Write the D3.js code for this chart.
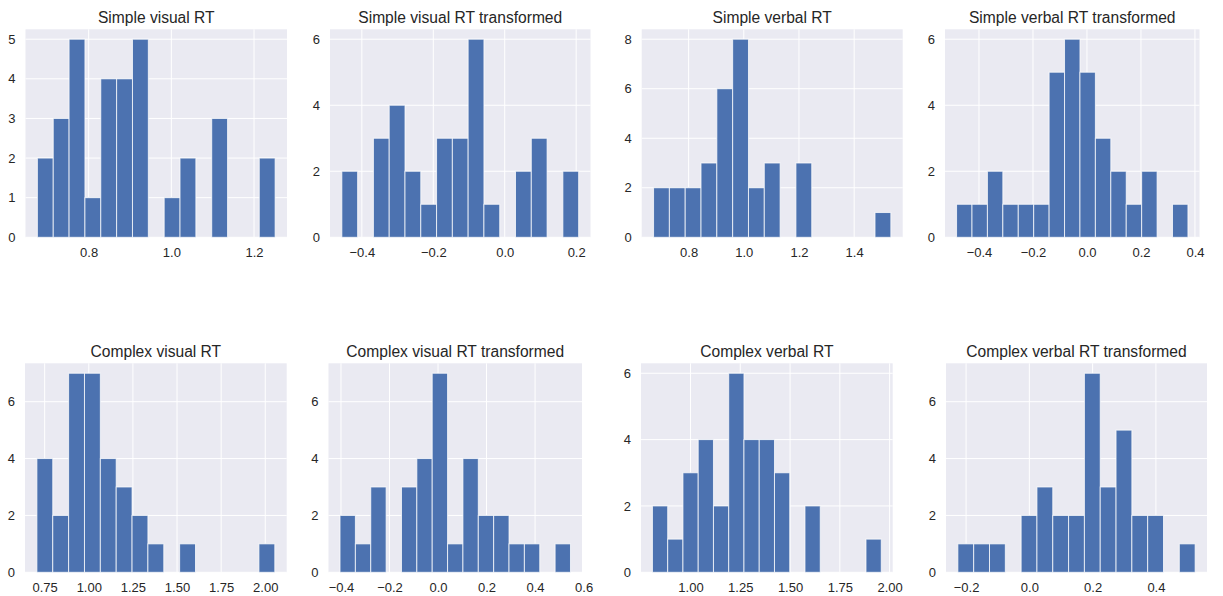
<!DOCTYPE html>
<html>
<head>
<meta charset="utf-8">
<script src="https://cdn.jsdelivr.net/npm/d3@7"></script>
<style>
  body { margin: 0; background: #fff; }
  svg { display: block; font-family: "Liberation Sans", Arial, sans-serif; }
</style>
</head>
<body>
<svg id="chart" width="1223" height="596"></svg>
<script>
// ---- data ----
var titles = [
	"Simple visual RT", "Simple visual RT transformed", "Simple verbal RT", "Simple verbal RT transformed",
	"Complex visual RT", "Complex visual RT transformed", "Complex verbal RT", "Complex verbal RT transformed"
];

// lowest and highest bin edge of each histogram (15 bins each)
var binLow = [0.676, -0.456, 0.673, -0.483, 0.706, -0.404, 0.809, -0.226];
var binHigh = [1.251, 0.207, 1.533, 0.374, 2.054, 0.546, 1.958, 0.524];

var counts = [
	[2, 3, 5, 1, 4, 4, 5, 0, 1, 2, 0, 3, 0, 0, 2],
	[2, 0, 3, 4, 2, 1, 3, 3, 6, 1, 0, 2, 3, 0, 2],
	[2, 2, 2, 3, 6, 8, 2, 3, 0, 3, 0, 0, 0, 0, 1],
	[1, 1, 2, 1, 1, 1, 5, 6, 5, 3, 2, 1, 2, 0, 1],
	[4, 2, 7, 7, 4, 3, 2, 1, 0, 1, 0, 0, 0, 0, 1],
	[2, 1, 3, 0, 3, 4, 7, 1, 4, 2, 2, 1, 1, 0, 1],
	[2, 1, 3, 4, 2, 6, 4, 4, 3, 0, 2, 0, 0, 0, 1],
	[1, 1, 1, 0, 2, 3, 2, 2, 7, 3, 5, 2, 2, 0, 1]
];

var xTickLabels = [
	["0.8", "1.0", "1.2"],
	["\u22120.4", "\u22120.2", "0.0", "0.2"],
	["0.8", "1.0", "1.2", "1.4"],
	["\u22120.4", "\u22120.2", "0.0", "0.2", "0.4"],
	["0.75", "1.00", "1.25", "1.50", "1.75", "2.00"],
	["\u22120.4", "\u22120.2", "0.0", "0.2", "0.4", "0.6"],
	["1.00", "1.25", "1.50", "1.75", "2.00"],
	["\u22120.2", "0.0", "0.2", "0.4"]
];

var yTicks = [
	[0, 1, 2, 3, 4, 5],
	[0, 2, 4, 6],
	[0, 2, 4, 6, 8],
	[0, 2, 4, 6],
	[0, 2, 4, 6],
	[0, 2, 4, 6],
	[0, 2, 4, 6],
	[0, 2, 4, 6]
];

// ---- layout (axes boxes, px) ----
var boxLeft = [25.5, 330, 641.7, 945, 25, 328.5, 641, 946];
var boxRight = [287, 590.5, 902.7, 1199.5, 286.7, 582, 892.7, 1207];
var rowTop = [29.3, 363.3];
var rowBottom = [237.3, 572.3];

var nBins = 15;
var textColor = "#262626";
var svg = d3.select("#chart");

titles.forEach(function (title, i) {
	var row = Math.floor(i / 4);
	var lo = binLow[i], hi = binHigh[i];
	var pad = (hi - lo) * 0.05;
	var maxCount = d3.max(counts[i]);

	var x = d3.scaleLinear()
		.domain([lo - pad, hi + pad])
		.range([boxLeft[i], boxRight[i]]);
	var y = d3.scaleLinear()
		.domain([0, maxCount * 1.05])
		.range([rowBottom[row], rowTop[row]]);

	var g = svg.append("g").attr("class", "panel");

	// background
	g.append("rect")
		.attr("x", boxLeft[i])
		.attr("y", rowTop[row])
		.attr("width", boxRight[i] - boxLeft[i])
		.attr("height", rowBottom[row] - rowTop[row])
		.attr("fill", "#EAEAF2");

	var xTickVals = xTickLabels[i].map(function (s) { return +s.replace("\u2212", "-"); });

	// grid
	g.selectAll("line.xgrid").data(xTickVals).enter().append("line")
		.attr("x1", function (d) { return x(d); })
		.attr("x2", function (d) { return x(d); })
		.attr("y1", rowTop[row])
		.attr("y2", rowBottom[row])
		.attr("stroke", "#fff")
		.attr("stroke-width", 1);
	g.selectAll("line.ygrid").data(yTicks[i]).enter().append("line")
		.attr("x1", boxLeft[i])
		.attr("x2", boxRight[i])
		.attr("y1", function (d) { return y(d); })
		.attr("y2", function (d) { return y(d); })
		.attr("stroke", "#fff")
		.attr("stroke-width", 1);

	// bars
	var step = (hi - lo) / nBins;
	var bins = counts[i].map(function (c, k) {
		return { x0: lo + k * step, x1: lo + (k + 1) * step, n: c };
	}).filter(function (b) { return b.n > 0; });

	g.selectAll("rect.bar").data(bins).enter().append("rect")
		.attr("class", "bar")
		.attr("x", function (d) { return x(d.x0); })
		.attr("width", function (d) { return x(d.x1) - x(d.x0); })
		.attr("y", function (d) { return y(d.n); })
		.attr("height", function (d) { return y(0) - y(d.n); })
		.attr("fill", "#4C72B0")
		.attr("stroke", "#fff")
		.attr("stroke-opacity", 0.75)
		.attr("stroke-width", 1);

	// axes
	var xAxis = d3.axisBottom(x)
		.tickValues(xTickVals)
		.tickSize(0)
		.tickPadding(10)
		.tickFormat(function (d, k) { return xTickLabels[i][k]; });
	var gx = g.append("g")
		.attr("transform", "translate(0," + rowBottom[row] + ")")
		.call(xAxis);

	var yAxis = d3.axisLeft(y)
		.tickValues(yTicks[i])
		.tickSize(0)
		.tickPadding(10)
		.tickFormat(d3.format("d"));
	var gy = g.append("g")
		.attr("transform", "translate(" + boxLeft[i] + ",0)")
		.call(yAxis);

	[gx, gy].forEach(function (ax) {
		ax.select(".domain").remove();
		ax.selectAll("text")
			.attr("fill", textColor)
			.style("font-size", "13px")
			.style("font-family", "'Liberation Sans', Arial, sans-serif");
	});

	// title
	g.append("text")
		.attr("x", (boxLeft[i] + boxRight[i]) / 2)
		.attr("y", rowTop[row] - 6)
		.attr("text-anchor", "middle")
		.attr("fill", textColor)
		.style("font-size", "15.6px")
		.text(title);
});
</script>
</body>
</html>
